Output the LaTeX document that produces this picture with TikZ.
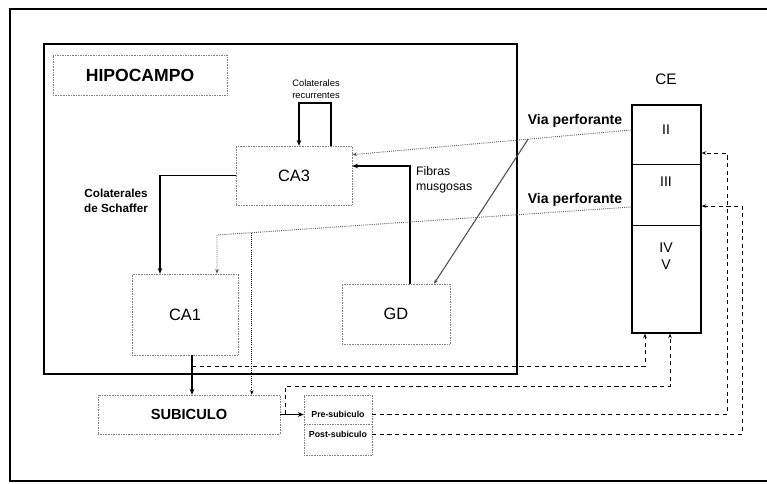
\documentclass[tikz,border=0pt]{standalone}
\usepackage{fontspec}
\setmainfont{Liberation Sans}
\usetikzlibrary{arrows.meta,calc,positioning}
\tikzset{pin/.style={-{Stealth[length=5pt,width=4pt]}, line width=1.1pt},
  area/.style={draw=gray, densely dotted, align=center},
  perf/.style={densely dotted, gray!70!black, line width=0.8pt},
  fb/.style={line width=0.8pt, dash pattern=on 3.5pt off 3pt}}

\begin{document}
\begin{tikzpicture}[x=0.3mm, y=-0.3mm]
  \useasboundingbox (0,0) rectangle (767,483);
  % frames
  \draw[line width=1.4pt] (767,9) -- (10,9) -- (10,481) -- (767,481);
  \draw[line width=2pt] (44,44) rectangle (517,374);
  \node[area, minimum width=52.2mm, minimum height=12mm, font=\bfseries\fontsize{15}{18}\selectfont] (hipo) at (140,75) {HIPOCAMPO};
  % regions
  \node[area, minimum width=34.8mm, minimum height=17.7mm, font=\fontsize{14}{16}\selectfont] (ca3) at (294,175.5) {CA3};
  \node[area, minimum width=31.8mm, minimum height=24.3mm, font=\fontsize{14}{16}\selectfont] (ca1) at (185,314.5) {CA1};
  \node[area, minimum width=32.4mm, minimum height=18mm, font=\fontsize{14}{16}\selectfont] (gd) at (396,314) {GD};
  \node[area, minimum width=54.6mm, minimum height=11.7mm, font=\bfseries\fontsize{12.5}{15}\selectfont] (sub) at (189,414.5) {SUBICULO};
  \node[area, minimum width=20.4mm, minimum height=18mm] (pps) at (338,425) {};
  \draw[gray, densely dotted] ($(pps.north west)!0.48!(pps.south west)$) -- ($(pps.north east)!0.48!(pps.south east)$);
  \node[font=\bfseries\fontsize{7.5}{9}\selectfont] (pre) at (338,414) {Pre-subiculo};
  \node[font=\bfseries\fontsize{7.5}{9}\selectfont] (post) at (338,434) {Post-subiculo};
  % entorhinal cortex
  \node[draw, line width=1pt, minimum width=20.7mm, minimum height=68.4mm] (ce) at (666.5,219) {};
  \draw[line width=1pt] ($(ce.north west)!0.263!(ce.south west)$) -- ($(ce.north east)!0.263!(ce.south east)$);
  \draw[line width=0.6pt] ($(ce.north west)!0.526!(ce.south west)$) -- ($(ce.north east)!0.526!(ce.south east)$);
  \node[font=\fontsize{13}{15}\selectfont] (cet) at (666,79) {CE};
  \node[font=\fontsize{12}{14}\selectfont] (ii) at (666,130) {II};
  \node[font=\fontsize{12}{14}\selectfont] (iii) at (666,182) {III};
  \node[font=\fontsize{12}{14}\selectfont, align=center] (iv) at (666,256) {IV\\V};
  % labels
  \node[font=\fontsize{8}{10}\selectfont, align=center] (rcl) at (316,89) {Colaterales\\recurrentes};
  \node[font=\bfseries\fontsize{10}{13}\selectfont, align=center] (scl) at (116,201) {Colaterales\\de Schaffer};
  \node[font=\fontsize{10.5}{13}\selectfont, align=left, anchor=west] (mfl) at (412,180) {Fibras\\musgosas};
  \node[font=\bfseries\fontsize{12}{14}\selectfont] (vpl1) at (575,121) {Via perforante};
  \node[font=\bfseries\fontsize{12}{14}\selectfont] (vpl2) at (575,200) {Via perforante};
  % intrinsic circuit
  \coordinate (rc1) at (331,103);
  \coordinate (rc2) at (299,103);
  \draw[pin] (rc1 |- ca3.north) -- (rc1) -- (rc2) -- (rc2 |- ca3.north);
  \coordinate (sc) at (160,0);
  \draw[pin] (ca3.west) -| (sc |- ca1.north);
  \coordinate (mf) at (410,166);
  \draw[pin] (mf |- gd.north) -- (mf) -- (mf -| ca3.east);
  \coordinate (cs) at (192,366);
  \draw[pin] (cs |- ca1.south) -- (cs |- sub.north);
  \fill (cs |- 0,374) circle (1.6pt);
  \draw[pin] (sub.east) -- (sub.east -| pps.west);
  % perforant path
  \coordinate (vpa) at ($(ca3.north east)!0.15!(ca3.south east)$);
  \draw[perf, -{Stealth[length=4pt]}] (ce.west |- ii) -- (vpa);
  \coordinate (vpb) at ($(ce.west |- ii)!0.37!(vpa)$);
  \draw[gray!60!black, line width=0.9pt, -{Stealth[length=4pt]}] (vpb) -- ($(gd.north)!0.7!(gd.north east)$);
  \coordinate (vps) at ($(ce.west)+(0,-12)$);
  \coordinate (vpc) at (217,235);
  \draw[perf, -{Stealth[length=4pt]}] (vps) -- (vpc) -- (vpc |- ca1.north);
  \coordinate (vpd) at ($(vps)!0.916!(vpc)$);
  \draw[perf, black, -{Stealth[length=4pt]}] (vpd) -- (vpd |- sub.north);
  % back projections to CE
  \coordinate (d1) at (645,366);
  \draw[fb, -{Stealth[length=4pt]}] (cs) -- (d1) -- (d1 |- ce.south);
  \coordinate (d2) at (285,386);
  \coordinate (d2b) at (670,386);
  \draw[fb, -{Stealth[length=4pt]}] (d2 |- sub.east) -- (d2) -- (d2b) -- (d2b |- ce.south);
  \coordinate (d3) at (727,153);
  \draw[fb, -{Stealth[length=4pt]}] (pps.east |- pre) -| (d3) -- (d3 -| ce.east);
  \coordinate (d4) at (742,206);
  \draw[fb, -{Stealth[length=4pt]}] (pps.east |- post) -| (d4) -- (d4 -| ce.east);
\end{tikzpicture}
\end{document}
